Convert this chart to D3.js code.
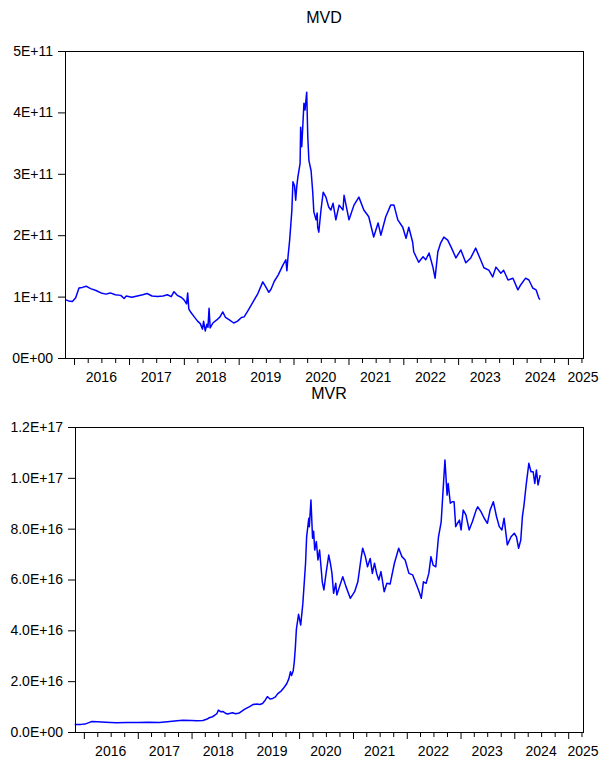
<!DOCTYPE html>
<html>
<head>
<meta charset="utf-8">
<script src="https://cdn.jsdelivr.net/npm/d3@7"></script>
<style>
  body { margin: 0; background: #fff; }
  text { font-family: "Liberation Sans", Arial, sans-serif; fill: #000; }
</style>
</head>
<body>
<div id="chart-area"></div>
<script>
// MVD series: decimal year and value (units of 1E+11)
const MVD_YEARS = [2015.84, 2015.90, 2015.97, 2016.03, 2016.09, 2016.15, 2016.22, 2016.30, 2016.40, 2016.49,
  2016.58, 2016.66, 2016.75, 2016.85, 2016.91, 2016.95, 2017.05, 2017.15, 2017.25, 2017.33,
  2017.42, 2017.52, 2017.62, 2017.70, 2017.77, 2017.82, 2017.88, 2017.95, 2018.00, 2018.05,
  2018.07, 2018.09, 2018.13, 2018.19, 2018.25, 2018.30, 2018.34, 2018.36, 2018.39, 2018.42,
  2018.44, 2018.46, 2018.48, 2018.53, 2018.60, 2018.66, 2018.71, 2018.76, 2018.83, 2018.91,
  2018.98, 2019.05, 2019.10, 2019.17, 2019.26, 2019.35, 2019.44, 2019.50, 2019.55, 2019.59,
  2019.65, 2019.72, 2019.80, 2019.86, 2019.88, 2019.90, 2019.93, 2019.97, 2019.99, 2020.02,
  2020.04, 2020.06, 2020.08, 2020.12, 2020.13, 2020.15, 2020.19, 2020.21, 2020.24, 2020.26,
  2020.28, 2020.32, 2020.35, 2020.37, 2020.41, 2020.43, 2020.44, 2020.46, 2020.50, 2020.54,
  2020.59, 2020.64, 2020.68, 2020.72, 2020.77, 2020.83, 2020.90, 2020.92, 2021.01, 2021.10,
  2021.19, 2021.28, 2021.37, 2021.46, 2021.54, 2021.59, 2021.68, 2021.77, 2021.83, 2021.90,
  2021.99, 2022.05, 2022.10, 2022.17, 2022.19, 2022.28, 2022.36, 2022.41, 2022.47, 2022.54,
  2022.58, 2022.63, 2022.68, 2022.74, 2022.81, 2022.87, 2022.96, 2023.05, 2023.14, 2023.23,
  2023.32, 2023.41, 2023.47, 2023.56, 2023.63, 2023.69, 2023.78, 2023.83, 2023.91, 2024.00,
  2024.09, 2024.14, 2024.23, 2024.29, 2024.36, 2024.42, 2024.47, 2024.49]
const MVD_VALUES = [0.95, 0.93, 0.92, 0.98, 1.14, 1.15, 1.17, 1.13, 1.10, 1.06,
  1.04, 1.06, 1.03, 1.02, 0.97, 1.01, 0.99, 1.01, 1.03, 1.05,
  1.01, 1.00, 1.01, 1.03, 1.00, 1.08, 1.02, 0.99, 0.95, 0.88,
  1.06, 0.80, 0.74, 0.67, 0.60, 0.56, 0.47, 0.60, 0.44, 0.55,
  0.50, 0.81, 0.49, 0.57, 0.62, 0.67, 0.75, 0.66, 0.62, 0.57,
  0.60, 0.66, 0.67, 0.77, 0.91, 1.05, 1.24, 1.15, 1.07, 1.12,
  1.25, 1.35, 1.50, 1.60, 1.42, 1.65, 1.92, 2.40, 2.87, 2.80,
  2.57, 2.80, 2.95, 3.17, 3.76, 3.44, 4.15, 4.04, 4.33, 3.60,
  3.22, 3.05, 2.70, 2.38, 2.25, 2.36, 2.13, 2.05, 2.41, 2.70,
  2.62, 2.46, 2.41, 2.52, 2.25, 2.49, 2.41, 2.65, 2.25, 2.49,
  2.62, 2.41, 2.30, 1.97, 2.20, 2.00, 2.30, 2.49, 2.49, 2.25,
  2.13, 1.95, 2.13, 1.89, 1.73, 1.56, 1.65, 1.60, 1.71, 1.48,
  1.30, 1.73, 1.87, 1.97, 1.92, 1.81, 1.63, 1.76, 1.55, 1.63,
  1.79, 1.60, 1.47, 1.43, 1.32, 1.48, 1.38, 1.43, 1.27, 1.30,
  1.11, 1.19, 1.30, 1.27, 1.14, 1.11, 0.98, 0.95]

// MVR series: decimal year and value (units of 1E+16)
const MVR_YEARS = [2015.83, 2015.95, 2016.02, 2016.08, 2016.15, 2016.25, 2016.40, 2016.60, 2016.80, 2017.00,
  2017.20, 2017.40, 2017.55, 2017.73, 2017.84, 2018.00, 2018.10, 2018.21, 2018.28, 2018.33,
  2018.39, 2018.44, 2018.47, 2018.50, 2018.54, 2018.58, 2018.63, 2018.67, 2018.76, 2018.82,
  2018.89, 2018.95, 2018.99, 2019.08, 2019.14, 2019.21, 2019.27, 2019.32, 2019.37, 2019.41,
  2019.46, 2019.51, 2019.56, 2019.60, 2019.67, 2019.72, 2019.77, 2019.81, 2019.84, 2019.86,
  2019.89, 2019.91, 2019.93, 2019.95, 2019.99, 2020.03, 2020.07, 2020.12, 2020.14, 2020.18,
  2020.19, 2020.22, 2020.25, 2020.27, 2020.29, 2020.32, 2020.35, 2020.38, 2020.43, 2020.46,
  2020.50, 2020.55, 2020.58, 2020.61, 2020.64, 2020.68, 2020.70, 2020.75, 2020.81, 2020.87,
  2020.95, 2021.03, 2021.09, 2021.15, 2021.18, 2021.23, 2021.27, 2021.32, 2021.36, 2021.40,
  2021.44, 2021.48, 2021.52, 2021.58, 2021.63, 2021.69, 2021.77, 2021.85, 2021.91, 2021.97,
  2022.04, 2022.11, 2022.17, 2022.23, 2022.27, 2022.31, 2022.36, 2022.41, 2022.45, 2022.49,
  2022.54, 2022.59, 2022.64, 2022.67, 2022.71, 2022.75, 2022.77, 2022.81, 2022.85, 2022.88,
  2022.91, 2022.94, 2022.98, 2023.01, 2023.05, 2023.10, 2023.16, 2023.22, 2023.29, 2023.32,
  2023.38, 2023.44, 2023.50, 2023.55, 2023.61, 2023.67, 2023.72, 2023.77, 2023.81, 2023.87,
  2023.94, 2024.00, 2024.04, 2024.08, 2024.12, 2024.15, 2024.18, 2024.22, 2024.27, 2024.31,
  2024.35, 2024.38, 2024.41, 2024.44, 2024.48]
const MVR_VALUES = [0.30, 0.30, 0.31, 0.36, 0.41, 0.40, 0.38, 0.36, 0.37, 0.37,
  0.38, 0.37, 0.40, 0.44, 0.46, 0.45, 0.44, 0.45, 0.50, 0.56,
  0.60, 0.67, 0.72, 0.86, 0.80, 0.81, 0.74, 0.71, 0.76, 0.72,
  0.75, 0.84, 0.90, 1.00, 1.08, 1.10, 1.08, 1.12, 1.25, 1.39,
  1.30, 1.32, 1.38, 1.50, 1.62, 1.75, 1.90, 2.10, 2.37, 2.22,
  2.40, 2.75, 3.30, 4.05, 4.63, 4.21, 5.06, 6.64, 7.68, 8.41,
  8.08, 9.13, 7.62, 7.90, 7.16, 7.49, 6.77, 7.16, 5.91, 5.59,
  6.24, 6.96, 6.64, 6.24, 5.46, 5.85, 5.39, 5.72, 6.11, 5.72,
  5.26, 5.52, 5.91, 6.83, 7.23, 6.90, 6.50, 6.83, 6.24, 6.64,
  6.24, 5.98, 6.31, 5.52, 5.85, 5.82, 6.64, 7.23, 6.90, 6.77,
  6.24, 6.18, 5.85, 5.52, 5.26, 5.91, 5.85, 6.24, 6.90, 6.57,
  6.50, 7.68, 8.27, 9.32, 10.70, 9.32, 9.78, 9.00, 9.06, 9.06,
  8.08, 8.20, 8.34, 7.95, 8.73, 8.54, 7.95, 8.27, 8.73, 8.86,
  8.67, 8.41, 8.21, 8.73, 9.06, 8.47, 8.08, 7.95, 8.41, 7.36,
  7.68, 7.82, 7.68, 7.23, 7.55, 8.47, 8.93, 9.72, 10.57, 10.24,
  10.24, 9.78, 10.31, 9.72, 10.11]

// axis tick values and labels
const MVD_TICKS = [0, 1e11, 2e11, 3e11, 4e11, 5e11]
const MVD_TICK_LABELS = ["0E+00", "1E+11", "2E+11", "3E+11", "4E+11", "5E+11"]
const MVR_TICKS = [0, 2e16, 4e16, 6e16, 8e16, 1e17, 1.2e17]
const MVR_TICK_LABELS = ["0.0E+00", "2.0E+16", "4.0E+16", "6.0E+16", "8.0E+16", "1.0E+17", "1.2E+17"]
const YEAR_LABELS = [2016, 2017, 2018, 2019, 2020, 2021, 2022, 2023, 2024, 2025]

// first and last date on the time axis (decimal years)
const X_START = 2015.835
const X_END = 2025.275

// turn a decimal year into a Date
function yearToDate(y) {
    const yr = Math.floor(y)
    const start = new Date(yr, 0, 1)
    const end = new Date(yr + 1, 0, 1)
    return new Date(+start + (y - yr) * (end - start))
}

const svg = d3.select("#chart-area").append("svg")
    .attr("width", 601)
    .attr("height", 759)

function drawPanel(p) {
    const WIDTH = p.right - p.left
    const HEIGHT = p.bottom - p.top

    const g = svg.append("g")
        .attr("transform", `translate(${p.left},${p.top})`)

    const x = d3.scaleTime()
        .domain([yearToDate(X_START), yearToDate(X_END)])
        .range([0, WIDTH])

    const y = d3.scaleLinear()
        .domain([0, p.ticks[p.ticks.length - 1]])
        .range([HEIGHT, 0])

    // title
    svg.append("text")
        .attr("x", p.left + WIDTH / 2)
        .attr("y", p.top - 28)
        .attr("text-anchor", "middle")
        .attr("font-size", "16px")
        .text(p.title)

    // Y axis
    const yAxisCall = d3.axisLeft(y)
        .tickValues(p.ticks)
        .tickSize(7)
        .tickPadding(5)
        .tickFormat((d, i) => p.tickLabels[i])

    const yAxis = g.append("g")
        .attr("class", "y axis")
        .call(yAxisCall)
    yAxis.select(".domain").remove()
    yAxis.selectAll("text").attr("font-size", "14px")

    // X axis: quarter ticks, longer ones at the start of each year
    const quarters = d3.timeMonth.every(3).range(yearToDate(X_START), yearToDate(X_END))
    const xAxisCall = d3.axisBottom(x)
        .tickValues(quarters)
        .tickSize(7)
        .tickFormat("")

    const xAxis = g.append("g")
        .attr("class", "x axis")
        .attr("transform", `translate(0, ${HEIGHT})`)
        .call(xAxisCall)
    xAxis.select(".domain").remove()
    xAxis.selectAll(".tick line")
        .attr("y2", d => d.getMonth() === 0 ? 7 : 5)

    // year labels sit in the middle of each year
    g.selectAll(".year-label")
        .data(YEAR_LABELS)
        .enter().append("text")
        .attr("class", "year-label")
        .attr("x", d => Math.min(x(new Date(d, 6, 1)), WIDTH))
        .attr("y", HEIGHT + 24)
        .attr("text-anchor", "middle")
        .attr("font-size", "14px")
        .text(d => d)

    // the series
    const data = p.years.map((yr, i) => ({ date: yearToDate(yr), value: p.values[i] * p.unit }))
    const line = d3.line()
        .x(d => x(d.date))
        .y(d => y(d.value))

    g.append("path")
        .datum(data)
        .attr("fill", "none")
        .attr("stroke", "#0000ff")
        .attr("stroke-width", 1.5)
        .attr("stroke-linejoin", "round")
        .attr("d", line)

    // frame
    g.append("rect")
        .attr("x", 0)
        .attr("y", 0)
        .attr("width", WIDTH)
        .attr("height", HEIGHT)
        .attr("fill", "none")
        .attr("stroke", "#000")
        .attr("stroke-width", 1)
        .attr("shape-rendering", "crispEdges")
}

drawPanel({
    title: "MVD", left: 65, right: 583, top: 51, bottom: 358,
    years: MVD_YEARS, values: MVD_VALUES, unit: 1e11,
    ticks: MVD_TICKS, tickLabels: MVD_TICK_LABELS
})

drawPanel({
    title: "MVR", left: 75, right: 583, top: 427, bottom: 732,
    years: MVR_YEARS, values: MVR_VALUES, unit: 1e16,
    ticks: MVR_TICKS, tickLabels: MVR_TICK_LABELS
})
</script>
</body>
</html>
